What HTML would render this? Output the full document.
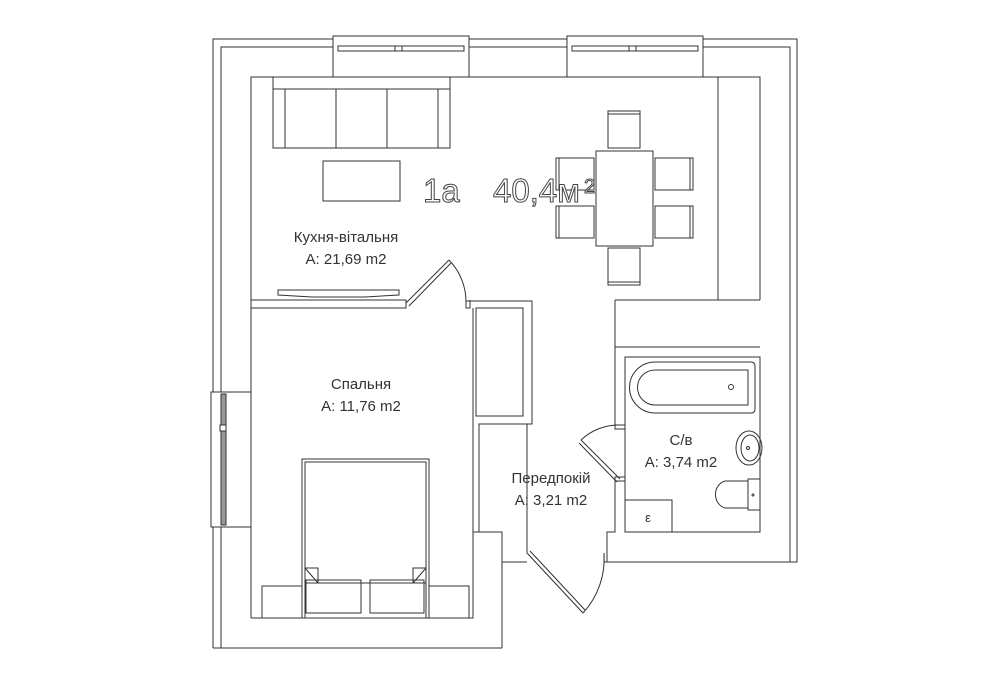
<!DOCTYPE html>
<html><head><meta charset="utf-8"><style>
html,body{margin:0;padding:0;background:#fff;}
svg{display:block;}
text{font-family:"Liberation Sans","DejaVu Sans",sans-serif;fill:#333;}
</style></head><body>
<svg width="1000" height="685" viewBox="0 0 1000 685" xmlns="http://www.w3.org/2000/svg">
<g fill="none" stroke="#333" stroke-width="1">
<polyline points="213,648 213,39 797,39 797,562 607,562"/>
<polyline points="221,648 221,47 790,47 790,562"/>
<line x1="213" y1="648" x2="502" y2="648"/>
<polyline points="502,648 502,562 527,562"/>
<rect x="333" y="36" width="136" height="41" fill="#fff"/>
<rect x="338" y="46" width="126" height="5"/>
<rect x="395" y="46" width="7" height="5"/>
<rect x="567" y="36" width="136" height="41" fill="#fff"/>
<rect x="572" y="46" width="126" height="5"/>
<rect x="629" y="46" width="7" height="5"/>
<rect x="211" y="392" width="40" height="135" fill="#fff"/>
<rect x="221" y="394" width="5" height="131" fill="#999"/>
<rect x="220" y="425" width="6" height="6" fill="#fff"/>
<polyline points="251,618 251,77 760,77 760,300"/>
<line x1="718" y1="77" x2="718" y2="300"/>
<line x1="615" y1="300" x2="760" y2="300"/>
<line x1="615" y1="347" x2="760" y2="347"/>
<rect x="273" y="77" width="177" height="71"/>
<line x1="273" y1="89" x2="450" y2="89"/>
<line x1="285" y1="89" x2="285" y2="148"/>
<line x1="438" y1="89" x2="438" y2="148"/>
<line x1="336" y1="89" x2="336" y2="148"/>
<line x1="387" y1="89" x2="387" y2="148"/>
<rect x="323" y="161" width="77" height="40"/>
<rect x="596" y="151" width="57" height="95"/>
<rect x="608" y="111" width="32" height="37"/>
<line x1="608" y1="114" x2="640" y2="114"/>
<rect x="608" y="248" width="32" height="37"/>
<line x1="608" y1="282" x2="640" y2="282"/>
<rect x="556" y="158" width="38" height="32"/>
<line x1="559" y1="158" x2="559" y2="190"/>
<rect x="556" y="206" width="38" height="32"/>
<line x1="559" y1="206" x2="559" y2="238"/>
<rect x="655" y="158" width="38" height="32"/>
<line x1="690" y1="158" x2="690" y2="190"/>
<rect x="655" y="206" width="38" height="32"/>
<line x1="690" y1="206" x2="690" y2="238"/>
<polygon points="278,290 399,290 399,295 365,297 312,297 278,295"/>
<rect x="251" y="300" width="155" height="8"/>
<line x1="406" y1="303" x2="449" y2="260"/>
<line x1="409" y1="306" x2="451" y2="263"/>
<path d="M449,260 A60,60 0 0 1 466,302"/>
<polyline points="466,300 466,308 470,308 470,300"/>
<polyline points="466,301 532,301 532,424 479,424 479,532"/>
<rect x="476" y="308" width="47" height="108"/>
<polyline points="473,308 473,618 251,618"/>
<polyline points="473,532 502,532 502,562"/>
<line x1="527" y1="424" x2="527" y2="553"/>
<line x1="527" y1="553" x2="583" y2="613"/>
<line x1="530" y1="551" x2="585" y2="610"/>
<path d="M583,613 A80,80 0 0 0 604,553"/>
<polyline points="604,553 604,562 607,562 607,532 615,532 615,477"/>
<polyline points="615,425 615,300"/>
<rect x="625" y="357" width="135" height="175"/>
<rect x="615" y="425" width="10" height="4"/>
<rect x="615" y="477" width="10" height="4"/>
<line x1="620" y1="479" x2="581" y2="440"/>
<line x1="617" y1="482" x2="579" y2="443"/>
<path d="M581,440 A55,55 0 0 1 620,425"/>
<path d="M655,362 L751,362 Q755,362 755,366 L755,409 Q755,413 751,413 L655,413 A25.5,25.5 0 0 1 655,362 Z"/>
<path d="M655,370 L748,370 L748,405 L655,405 A17.5,17.5 0 0 1 655,370 Z"/>
<circle cx="731" cy="387" r="2.5"/>
<ellipse cx="749" cy="448" rx="13" ry="17"/>
<ellipse cx="750" cy="448" rx="9" ry="13"/>
<circle cx="748" cy="448" r="1.5"/>
<path d="M748,481 L725,481 A13,14 0 0 0 725,508 L748,508 Z"/>
<rect x="748" y="479" width="12" height="31"/>
<circle cx="753" cy="495" r="1"/>
<rect x="625" y="500" width="47" height="32"/>
<rect x="302" y="459" width="127" height="159"/>
<rect x="305" y="462" width="121" height="156"/>
<polygon points="305,568 318,568 318,583 305,583"/>
<line x1="305" y1="568" x2="318" y2="583"/>
<polygon points="413,568 426,568 426,583 413,583"/>
<line x1="426" y1="568" x2="413" y2="583"/>
<line x1="318" y1="583" x2="413" y2="583"/>
<rect x="306" y="580" width="55" height="33"/>
<rect x="370" y="580" width="54" height="33"/>
<rect x="262" y="586" width="40" height="32"/>
<rect x="429" y="586" width="40" height="32"/>
</g>
<g font-size="33" stroke="#444" stroke-width="1">
<text x="423" y="202" style="fill:#fff">1a</text>
<text x="493" y="202" style="fill:#fff">40,4м</text>
<text x="584" y="193" font-size="20" style="fill:#fff">2</text>
</g>
<g font-size="15" text-anchor="middle">
<text x="346" y="242">Кухня-вітальня</text>
<text x="346" y="264">A: 21,69 m2</text>
<text x="361" y="389">Спальня</text>
<text x="361" y="411">A: 11,76 m2</text>
<text x="551" y="483">Передпокій</text>
<text x="551" y="505">A: 3,21 m2</text>
<text x="681" y="445">С/в</text>
<text x="681" y="467">A: 3,74 m2</text>
<text x="648" y="522" font-size="13">ε</text>
</g>
</svg>
</body></html>
